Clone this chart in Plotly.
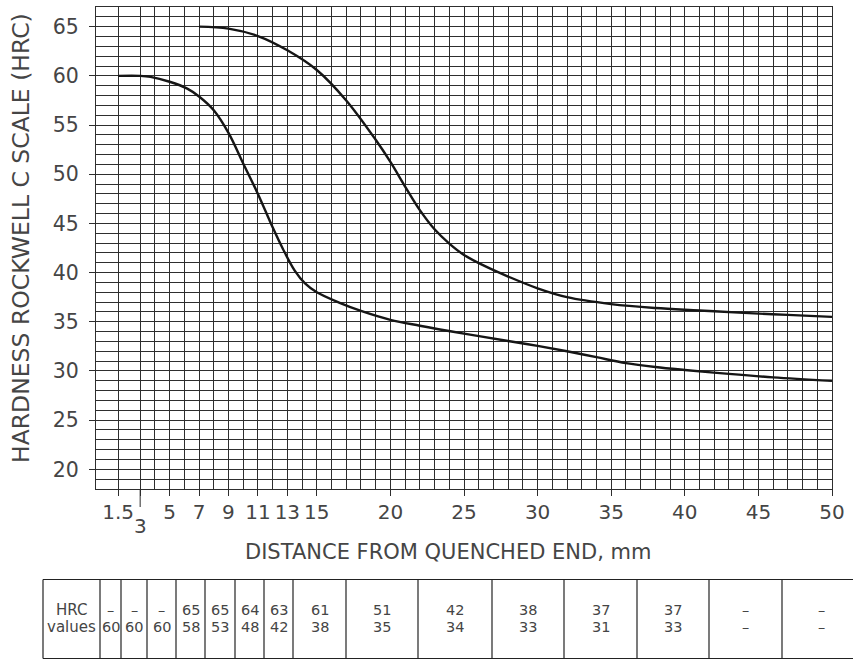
import plotly.graph_objects as go

# Jominy end-quench hardenability curves
upper_x = [7, 9, 11, 13, 15, 17, 19, 20, 21, 22, 23, 24, 25, 26.5, 28, 30, 32, 35, 38, 41,
           44, 47, 50]
upper_y = [65.0, 64.8, 64.05, 62.6, 60.6, 57.5, 53.5, 51.25, 48.75, 46.35, 44.4, 42.95, 41.8,
           40.6, 39.6, 38.4, 37.5, 36.8, 36.4, 36.15, 35.9, 35.7, 35.5]

lower_x = [1.5, 3, 3.7, 5, 6.2, 7, 8, 9, 10, 11, 12, 12.7, 13.5, 14.2, 15, 16.6, 18, 20, 22,
           25, 28, 30, 32, 34, 36, 38, 40, 43, 46, 50]
lower_y = [60.0, 60.0, 59.9, 59.4, 58.7, 57.9, 56.5, 54.2, 51.1, 48.0, 44.6, 42.4, 40.2, 38.9,
           38.0, 36.9, 36.1, 35.2, 34.6, 33.8, 33.05, 32.55, 32.0, 31.4, 30.8, 30.4, 30.1,
           29.7, 29.35, 29.0]

# axis ticks
x_ticks = [1.5, 3, 5, 7, 9, 11, 13, 15, 20, 25, 30, 35, 40, 45, 50]
y_ticks = [20, 25, 30, 35, 40, 45, 50, 55, 60, 65]

# table of measured HRC values (upper / lower band) at each distance
table_top = ["–", "–", "–", "65", "65", "64", "63", "61", "51", "42", "38", "37", "37", "–", "–"]
table_bot = ["60", "60", "60", "58", "53", "48", "42", "38", "35", "34", "33", "31", "33", "–", "–"]

X_RANGE = [0, 50]
Y_RANGE = [18, 67]

W, H = 853, 659
ML, MR, MT, MB = 96, 21, 7, 170
PW, PH = W - ML - MR, H - MT - MB

FONT = "DejaVu Sans"
TXT = "#454545"
GRID = "#2e2e2e"


def px(xp):
    return (xp - ML) / PW


def py(yp):
    return (H - MB - yp) / PH


fig = go.Figure()
for xs, ys in [(upper_x, upper_y), (lower_x, lower_y)]:
    fig.add_trace(go.Scatter(x=xs, y=ys, mode="lines",
                             line=dict(color="#151515", width=2.4, shape="spline", smoothing=1.0),
                             showlegend=False, hoverinfo="skip"))

x_grid = [0, 1.5] + list(range(3, 51))
y_grid = list(range(18, 68))

fig.update_xaxes(range=X_RANGE, tickmode="array", tickvals=x_ticks,
                 ticktext=["" if t == 3 else ("%g" % t) for t in x_ticks],
                 ticks="outside", ticklen=6, tickcolor=GRID, tickwidth=1,
                 showgrid=True, gridcolor=GRID, gridwidth=1,
                 minor=dict(tickvals=x_grid, showgrid=True, gridcolor=GRID, gridwidth=1, ticks=""),
                 showline=True, linecolor=GRID, linewidth=1, mirror=True,
                 zeroline=False, ticklabelstandoff=-1,
                 tickfont=dict(family=FONT, size=20, color=TXT))
fig.update_yaxes(range=Y_RANGE, tickmode="array", tickvals=y_ticks,
                 ticks="outside", ticklen=6, tickcolor=GRID, tickwidth=1,
                 showgrid=True, gridcolor=GRID, gridwidth=1,
                 minor=dict(tickvals=y_grid, showgrid=True, gridcolor=GRID, gridwidth=1, ticks=""),
                 showline=True, linecolor=GRID, linewidth=1, mirror=True,
                 zeroline=False, ticklabelstandoff=6,
                 tickfont=dict(family=FONT, size=20.5, color=TXT))

shapes = []
annotations = []

# the "3" label sits lower, on a longer tick
x3 = (3 - X_RANGE[0]) / (X_RANGE[1] - X_RANGE[0])
shapes.append(dict(type="line", xref="paper", yref="paper", x0=x3, x1=x3, y0=0, y1=py(507),
                   line=dict(color=GRID, width=1)))
annotations.append(dict(text="3", xref="paper", yref="paper", x=x3, y=py(526),
                        xanchor="center", yanchor="middle", showarrow=False,
                        font=dict(family=FONT, size=20, color=TXT)))

# axis titles
annotations.append(dict(text="DISTANCE FROM QUENCHED END, mm", xref="paper", yref="paper",
                        x=px(448), y=py(552), xanchor="center", yanchor="middle", showarrow=False,
                        font=dict(family=FONT, size=21, color=TXT)))
annotations.append(dict(text="HARDNESS ROCKWELL C SCALE (HRC)", xref="paper", yref="paper",
                        x=px(21), y=py(238), xanchor="center", yanchor="middle", showarrow=False,
                        textangle=-90, font=dict(family=FONT, size=23.5, color=TXT)))

# value table under the chart
col_edges = [43, 100, 121, 147, 176, 205, 235, 264, 293, 346, 418, 492, 564, 637, 709, 782, 860]
t_top, t_bot = 579.5, 658.5
line_style = dict(color="#222222", width=1.2)
for yy in (t_top, t_bot):
    shapes.append(dict(type="line", xref="paper", yref="paper", x0=px(col_edges[0]), x1=px(col_edges[-1]),
                       y0=py(yy), y1=py(yy), line=line_style))
for e in col_edges:
    shapes.append(dict(type="line", xref="paper", yref="paper", x0=px(e), x1=px(e),
                       y0=py(t_top), y1=py(t_bot), line=line_style))

row1, row2 = 610, 627.5
cells = [("HRC", "values")] + list(zip(table_top, table_bot))
for i, (a, b) in enumerate(cells):
    cx = (col_edges[i] + col_edges[i + 1]) / 2
    size = 15 if i == 0 else 14.5
    for txt, yy in ((a, row1), (b, row2)):
        annotations.append(dict(text=txt, xref="paper", yref="paper", x=px(cx), y=py(yy),
                                xanchor="center", yanchor="middle", showarrow=False,
                                font=dict(family=FONT, size=size, color=TXT)))

fig.update_layout(width=W, height=H, margin=dict(l=ML, r=MR, t=MT, b=MB),
                  paper_bgcolor="white", plot_bgcolor="white",
                  shapes=shapes, annotations=annotations)

fig.write_html("out.html")
